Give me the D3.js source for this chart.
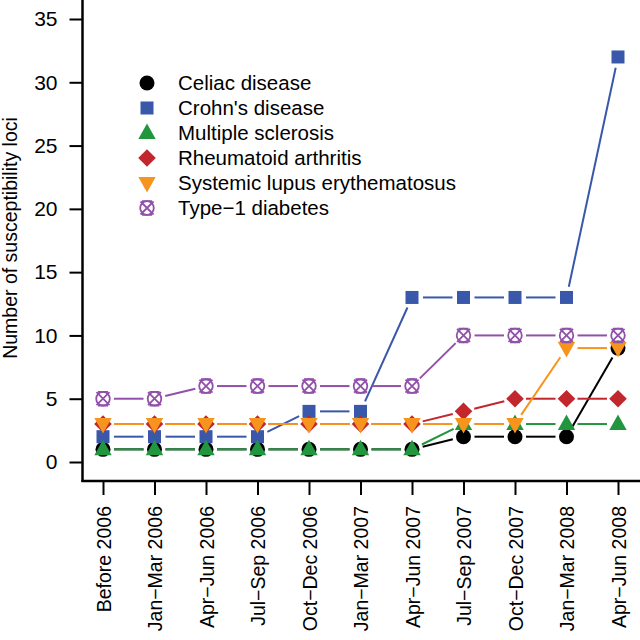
<!DOCTYPE html>
<html><head><meta charset="utf-8">
<script src="https://cdn.jsdelivr.net/npm/d3@7"></script>
<style>body{margin:0;background:#fff}svg{display:block}text{font-family:"Liberation Sans",Arial,sans-serif;fill:#000}</style>
</head><body><svg id="c" width="640" height="640"></svg>
<script>
const periods = ["Before 2006","Jan\u2212Mar 2006","Apr\u2212Jun 2006","Jul\u2212Sep 2006","Oct\u2212Dec 2006","Jan\u2212Mar 2007","Apr\u2212Jun 2007","Jul\u2212Sep 2007","Oct\u2212Dec 2007","Jan\u2212Mar 2008","Apr\u2212Jun 2008"];
const seriesNames = ["Celiac disease","Crohn's disease","Multiple sclerosis","Rheumatoid arthritis","Systemic lupus erythematosus","Type\u22121 diabetes"];
const celiac = [1,1,1,1,1,1,1,2,2,2,9];
const crohns = [2,2,2,2,4,4,13,13,13,13,32];
const ms     = [1,1,1,1,1,1,1,3,3,3,3];
const ra     = [3,3,3,3,3,3,3,4,5,5,5];
const sle    = [3,3,3,3,3,3,3,3,3,9,9];
const t1d    = [5,5,6,6,6,6,6,10,10,10,10];
const yTicks = [0,5,10,15,20,25,30,35];
const colors = ["#000000","#3a58aa","#22963f","#c1272d","#f7941d","#9150aa"];
const shapes = ["circle","square","triUp","diamond","triDown","crossbox"];
const values = [celiac, crohns, ms, ra, sle, t1d];

const svg = d3.select("#c");
const x = d3.scalePoint().domain(periods).range([103,618]);
const y = d3.scaleLinear().domain([0,35]).range([462,19]);
const axX = 82.5, axY = 481;

// axes
const gy = svg.append("g").attr("transform",`translate(${axX},0)`)
  .call(d3.axisLeft(y).tickValues(yTicks).tickSize(13).tickSizeOuter(0).tickPadding(12));
gy.select(".domain").remove();
gy.selectAll("line").attr("stroke","#000").attr("stroke-width",2);
gy.selectAll("text").style("font-size","21px").attr("font-family",null);
svg.append("line").attr("x1",axX).attr("x2",axX).attr("y1",0).attr("y2",axY+1).attr("stroke","#000").attr("stroke-width",2.5);

const gx = svg.append("g").attr("transform",`translate(0,${axY})`)
  .call(d3.axisBottom(x).tickSize(14).tickSizeOuter(0));
gx.select(".domain").remove();
gx.selectAll("line").attr("stroke","#000").attr("stroke-width",2);
gx.selectAll("text").remove();
svg.append("line").attr("x1",axX-1).attr("x2",640).attr("y1",axY).attr("y2",axY).attr("stroke","#000").attr("stroke-width",2.5);
svg.append("g").selectAll("text").data(periods).join("text")
  .attr("transform", d => `translate(${x(d)},506) rotate(-90)`)
  .attr("text-anchor","end").attr("dy","0.4em")
  .style("font-size","19.5px").text(d => d);

svg.append("text").attr("transform","translate(17,238) rotate(-90)")
  .attr("text-anchor","middle").style("font-size","19.5px").text("Number of susceptibility loci");

function drawShape(g, shape, color){
  if(shape==="circle") g.append("circle").attr("r",7.5).attr("fill",color);
  else if(shape==="square") g.append("rect").attr("x",-6.5).attr("y",-6.5).attr("width",13).attr("height",13).attr("fill",color);
  else if(shape==="triUp") g.append("path").attr("d","M0,-9.5L8.7,6L-8.7,6Z").attr("fill",color);
  else if(shape==="triDown") g.append("path").attr("d","M0,9.5L8.7,-6L-8.7,-6Z").attr("fill",color);
  else if(shape==="diamond") g.append("path").attr("d","M0,-8.8L8.8,0L0,8.8L-8.8,0Z").attr("fill",color);
  else if(shape==="crossbox"){
    g.append("circle").attr("r",6.8).attr("fill","none").attr("stroke",color).attr("stroke-width",1.8);
    g.append("path").attr("d","M-6.5,-6.5L6.5,6.5M-6.5,6.5L6.5,-6.5M-5,-6.8L5,-6.8M-5,6.8L5,6.8").attr("fill","none").attr("stroke",color).attr("stroke-width",1.8);
  }
}

const gap = 11;
values.forEach((vals, si) => {
  const g = svg.append("g");
  const pts = vals.map((v,i) => [x(periods[i]), y(v)]);
  for(let i=0;i<pts.length-1;i++){
    const [x1,y1]=pts[i],[x2,y2]=pts[i+1];
    const dx=x2-x1, dy=y2-y1, L=Math.hypot(dx,dy);
    if(L<=2*gap) continue;
    const ux=dx/L, uy=dy/L;
    g.append("line").attr("x1",x1+ux*gap).attr("y1",y1+uy*gap).attr("x2",x2-ux*gap).attr("y2",y2-uy*gap)
      .attr("stroke",colors[si]).attr("stroke-width",2);
  }
  pts.forEach(p => drawShape(g.append("g").attr("transform",`translate(${p[0]},${p[1]})`), shapes[si], colors[si]));
});

// legend
const lg = svg.append("g");
seriesNames.forEach((n,i) => {
  const cy = 83 + i*25;
  drawShape(lg.append("g").attr("transform",`translate(147,${cy})`), shapes[i], colors[i]);
  lg.append("text").attr("x",178).attr("y",cy).attr("dy","0.36em").style("font-size","20.5px").text(n);
});
</script></body></html>
